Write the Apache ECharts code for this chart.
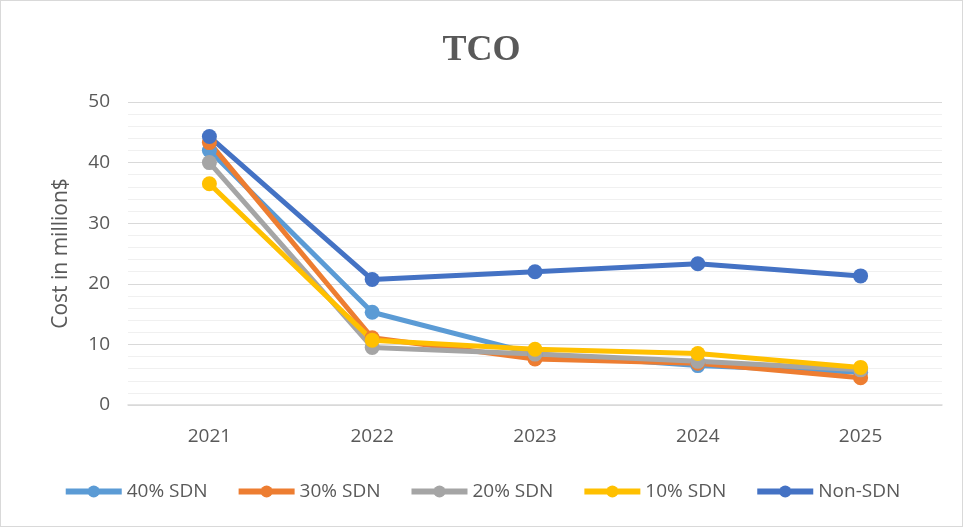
<!DOCTYPE html>
<html>
<head>
<meta charset="utf-8">
<script src="https://cdn.jsdelivr.net/npm/echarts@6/dist/echarts.min.js"></script>
<style>
  html, body { margin: 0; padding: 0; background: #fff; }
  #chart { width: 963px; height: 527px; box-sizing: border-box; border: 1px solid #d9d9d9; }
</style>
</head>
<body>
<div id="chart"></div>
<script>
const years = ['2021', '2022', '2023', '2024', '2025'];
const sdn40 = [42.0, 15.3, 8.4, 6.5, 5.4];
const sdn30 = [43.3, 11.1, 7.6, 6.9, 4.5];
const sdn20 = [40.0, 9.5, 8.4, 7.2, 5.8];
const sdn10 = [36.5, 10.7, 9.2, 8.5, 6.2];
const nonSdn = [44.3, 20.7, 22.0, 23.3, 21.3];

const makeLine = (name, data, color) => ({
  name: name,
  type: 'line',
  data: data,
  symbol: 'circle',
  symbolSize: 15,
  lineStyle: { width: 5, color: color },
  itemStyle: { color: color },
});

const chart = echarts.init(document.getElementById('chart'));
chart.setOption({
  animation: false,
  textStyle: { fontFamily: 'Open Sans', color: '#595959' },
  title: {
    text: 'TCO',
    left: 'center',
    top: 27,
    textStyle: { fontFamily: 'Liberation Serif', fontWeight: 'bold', fontSize: 36, color: '#595959' },
  },
  legend: {
    bottom: 20,
    left: 'center',
    itemWidth: 56,
    itemHeight: 15,
    itemGap: 28,
    itemTextGap: 3,
    lineStyle: { width: 6 },
    textStyle: { fontSize: 19, color: '#595959' },
  },
  grid: { left: 127, right: 20, top: 101, bottom: 121 },
  xAxis: {
    type: 'category',
    data: years,
    axisTick: { show: false },
    axisLine: { lineStyle: { color: '#d9d9d9', width: 1.5 } },
    axisLabel: { fontSize: 19, color: '#595959', margin: 22 },
  },
  yAxis: {
    type: 'value',
    min: 0,
    max: 50,
    interval: 10,
    name: 'Cost in million$',
    nameLocation: 'middle',
    nameGap: 56,
    nameTextStyle: { fontSize: 21, color: '#595959' },
    axisLabel: { fontSize: 19, color: '#595959', margin: 18 },
    splitLine: { lineStyle: { color: '#d9d9d9', width: 1.2 } },
    minorTick: { show: false, splitNumber: 5 },
    minorSplitLine: { show: true, lineStyle: { color: '#f0f0f0', width: 1.2 } },
  },
  series: [
    makeLine('40% SDN', sdn40, '#5b9bd5'),
    makeLine('30% SDN', sdn30, '#ed7d31'),
    makeLine('20% SDN', sdn20, '#a5a5a5'),
    makeLine('10% SDN', sdn10, '#ffc000'),
    makeLine('Non-SDN', nonSdn, '#4472c4'),
  ],
});
</script>
</body>
</html>
